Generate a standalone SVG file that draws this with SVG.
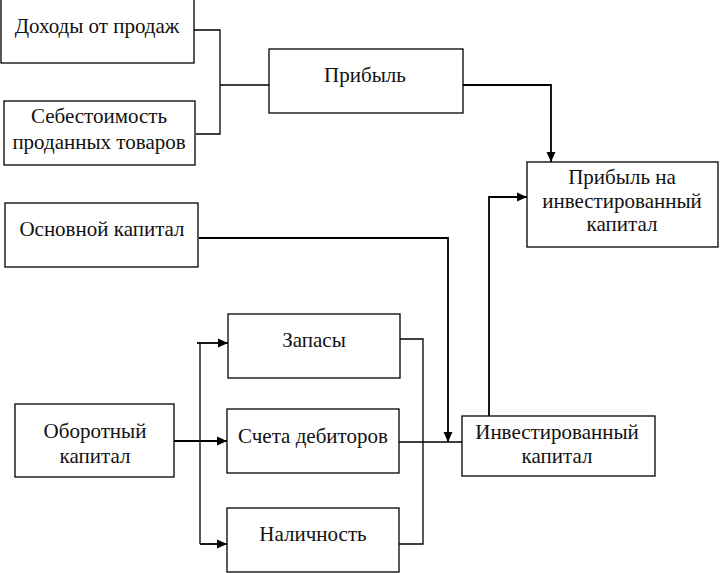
<svg xmlns="http://www.w3.org/2000/svg" width="720" height="573" viewBox="0 0 720 573">
<defs>
<style>
.box{fill:#fff;stroke:#000;stroke-width:1.3}
.t{font-size:21px;fill:#111;text-anchor:middle}
.ln{fill:none;stroke:#000;stroke-width:1.3}
.la{fill:none;stroke:#000;stroke-width:1.8}
</style>
<marker id="ah" viewBox="0 0 10 10" refX="10" refY="5" markerWidth="10" markerHeight="10" markerUnits="userSpaceOnUse" orient="auto">
<path d="M0,0.5 L10,5 L0,9.5 Z" fill="#000"/>
</marker>
</defs>
<rect width="720" height="573" fill="#fff"/>
<g id="connectors">
<path class="ln" d="M194,30 H220 V134 H196"/>
<path class="ln" d="M220,85 H269"/>
<path class="la" d="M463,85 H551 V162" marker-end="url(#ah)"/>
<path class="la" d="M489,416 V197 H527" marker-end="url(#ah)"/>
<path class="la" d="M199,238 H448 V442" marker-end="url(#ah)"/>
<path class="ln" d="M399,442 H462"/>
<path class="ln" d="M400,339 H423 V544 H399"/>
<path class="ln" d="M200,343 V544"/>
<path class="la" d="M197,343 H228" marker-end="url(#ah)"/>
<path class="la" d="M174,441 H227" marker-end="url(#ah)"/>
<path class="la" d="M200,544 H227" marker-end="url(#ah)"/>
</g>
<g font-family="'Liberation Serif', 'Times New Roman', 'DejaVu Serif', serif">
<g id="dohody"><rect class="box" x="1" y="-1" width="193" height="64"/><text class="t" x="97" y="33">Доходы от продаж</text></g>
<g id="sebestoimost"><rect class="box" x="4" y="101" width="191" height="64"/><text class="t" x="99" y="123">Себестоимость</text><text class="t" x="99" y="149">проданных товаров</text></g>
<g id="pribyl"><rect class="box" x="269" y="49" width="194" height="64"/><text class="t" x="365" y="82">Прибыль</text></g>
<g id="roi"><rect class="box" x="527" y="162" width="191" height="85"/><text class="t" x="622" y="184">Прибыль на</text><text class="t" x="622" y="208">инвестированный</text><text class="t" x="622" y="231">капитал</text></g>
<g id="osnovnoy"><rect class="box" x="5" y="203" width="193" height="64"/><text class="t" x="102" y="236">Основной капитал</text></g>
<g id="zapasy"><rect class="box" x="228" y="314" width="172" height="64"/><text class="t" x="314" y="347">Запасы</text></g>
<g id="debitory"><rect class="box" x="227" y="409" width="172" height="64"/><text class="t" x="313" y="443">Счета дебиторов</text></g>
<g id="nalichnost"><rect class="box" x="227" y="508" width="172" height="64"/><text class="t" x="313" y="541">Наличность</text></g>
<g id="oborotny"><rect class="box" x="15" y="404" width="159" height="73"/><text class="t" x="95" y="438">Оборотный</text><text class="t" x="95" y="463">капитал</text></g>
<g id="invest"><rect class="box" x="462" y="416" width="193" height="60"/><text class="t" x="557" y="439">Инвестированный</text><text class="t" x="557" y="463">капитал</text></g>
</g>
</svg>
